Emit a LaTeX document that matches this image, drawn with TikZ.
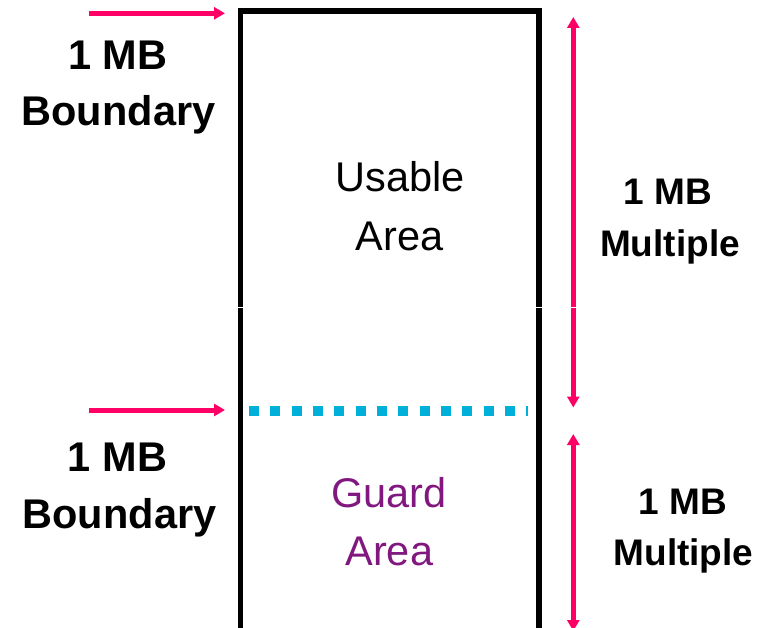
\documentclass[tikz,border=0pt]{standalone}
\usepackage{fontspec}
\setmainfont{Liberation Sans}
\usetikzlibrary{arrows.meta}
\definecolor{mbpink}{RGB}{255,0,102}
\definecolor{guardcyan}{RGB}{0,176,218}
\definecolor{guardpurple}{RGB}{128,24,128}
\tikzset{
  boundlbl/.style={font=\fontsize{41.5}{48}\selectfont\bfseries, anchor=base, inner sep=0pt},
  multlbl/.style={font=\fontsize{37}{42}\selectfont\bfseries, anchor=base, inner sep=0pt},
  arealbl/.style={font=\fontsize{41.5}{48}\selectfont, anchor=base, inner sep=0pt},
  pinktip/.tip={Triangle[length=11pt,width=12pt]},
  pinkarrow/.style={draw=mbpink, line width=5pt, -pinktip},
  pinkdouble/.style={draw=mbpink, line width=5pt, pinktip-pinktip},
  memframe/.style={draw=black, line width=5.5pt},
  guardline/.style={draw=guardcyan, line width=10pt, dash pattern=on 10pt off 11.33pt},
  seam/.style={draw=white, line width=0.8pt},
}
\begin{document}
\begin{tikzpicture}[x=1pt,y=-1pt]
\useasboundingbox (0,0) rectangle (771,628);
\clip (0,0) rectangle (771,628);

% memory region outline (open at the bottom)
\draw[memframe] (240.3,640) -- (240.3,11.2) -- (538.9,11.2) -- (538.9,640);

% start of the guard area
\draw[guardline] (249,411) -- (528,411);

% region labels
\node[arealbl] (usable1) at (400,192) {Usable};
\node[arealbl] (usable2) at (399.5,250.5) {Area};
\node[arealbl, text=guardpurple] (guard1) at (389,507) {Guard};
\node[arealbl, text=guardpurple] (guard2) at (389.3,565.5) {Area};

% boundary markers on the left
\node[boundlbl] (bnd1a) at (118,69.5) {1 MB};
\node[boundlbl] (bnd1b) at (118.5,126) {Boundary};
\node[boundlbl] (bnd2a) at (117.5,471.5) {1 MB};
\node[boundlbl] (bnd2b) at (119.5,528) {Boundary};

\coordinate (b1s) at (89,13.3);
\coordinate (b1e) at (225,13.3);
\coordinate (b2s) at (89,410);
\coordinate (b2e) at (225,410);
\draw[pinkarrow] (b1s) -- (b1e);
\draw[pinkarrow] (b2s) -- (b2e);

% size spans on the right
\node[multlbl] (mul1a) at (668,205) {1 MB};
\node[multlbl] (mul1b) at (670,257) {Multiple};
\node[multlbl] (mul2a) at (683,514) {1 MB};
\node[multlbl] (mul2b) at (683.5,565) {Multiple};

\coordinate (m1t) at (573.3,17);
\coordinate (m1b) at (573.3,407.5);
\coordinate (m2t) at (573.3,434);
\coordinate (m2b) at (573.3,631);
\draw[pinkdouble] (m1t) -- (m1b);
\draw[pinkdouble] (m2t) -- (m2b);

% thin join line between the two halves
\coordinate (seamL) at (230,307);
\coordinate (seamR) at (590,307);
\draw[seam] (seamL) -- (seamR);
\end{tikzpicture}
\end{document}
